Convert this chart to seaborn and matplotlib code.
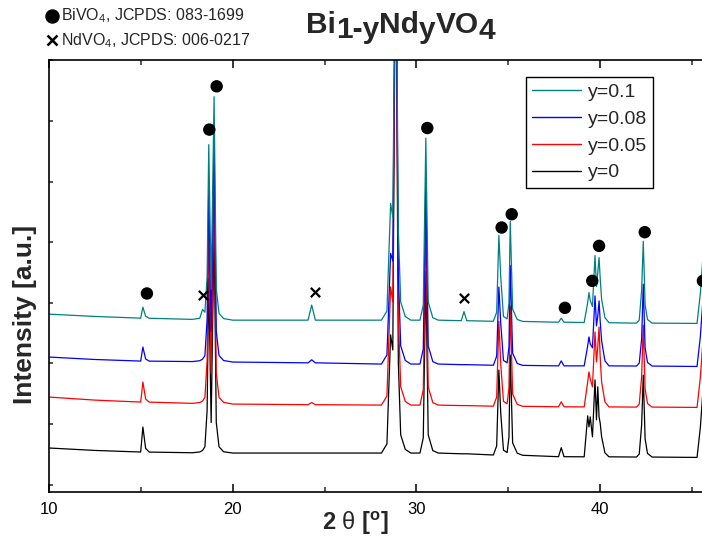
import numpy as np
import pandas as pd
import matplotlib
matplotlib.use('Agg')
import matplotlib.pyplot as plt
from matplotlib.lines import Line2D
from matplotlib.ticker import MultipleLocator
import seaborn as sns

# ---- data (2-theta in degrees, intensity in a.u. incl. stacking) ----
two_theta = [10.0, 12.5, 14.98, 15.1, 15.25, 15.45, 17.8, 18.2, 18.35, 18.48,
             18.6, 18.69, 18.82, 18.98, 19.1, 19.25, 19.5, 20.0, 24.1, 24.3,
             24.5, 28.1, 28.4, 28.6, 28.72, 28.88, 29.02, 29.15, 29.4, 29.7,
             30.2, 30.38, 30.52, 30.65, 30.9, 31.2, 32.45, 32.6, 32.75, 34.2,
             34.38, 34.5, 34.6, 34.75, 34.95, 35.05, 35.12, 35.25, 35.5, 35.8,
             37.75, 37.9, 38.05, 39.15, 39.34, 39.41, 39.48, 39.6, 39.74, 39.82,
             39.89, 39.96, 40.02, 40.1, 40.28, 40.5, 42.0, 42.15, 42.28, 42.37,
             42.47, 42.6, 42.85, 45.3, 45.48, 45.62]

int_y010 = [2813, 2775, 2747, 2928, 2777, 2745, 2727, 2745, 2890, 2845,
            3425, 5609, 3225, 6400, 3225, 2825, 2740, 2714, 2714, 2962,
            2714, 2714, 2864, 4639, 4414, 9800, 4214, 3014, 2774, 2714,
            2714, 2964, 5714, 3014, 2754, 2714, 2705, 2855, 2705, 2695,
            2845, 4112, 3435, 2775, 2735, 2995, 4343, 2895, 2725, 2693,
            2680, 2746, 2680, 2675, 3005, 3169, 3038, 2939, 3779, 3268,
            3499, 3746, 3417, 3054, 2757, 2672, 2665, 2715, 3209, 4016,
            2965, 2725, 2665, 2660, 3154, 3760]

int_y008 = [2105, 2065, 2039, 2270, 2074, 2038, 2031, 2045, 2070, 2130,
            2730, 4914, 2530, 5705, 2530, 2130, 2048, 2023, 2010, 2060,
            2010, 1990, 2140, 3815, 3690, 9800, 3490, 2290, 2050, 1990,
            1990, 2240, 4990, 2290, 2030, 1990, 1980, 1980, 1980, 1970,
            2120, 3260, 2670, 2050, 2010, 2270, 3618, 2170, 2000, 1968,
            1960, 2042, 1960, 1960, 2290, 2438, 2323, 2257, 3114, 2619,
            2784, 3031, 2702, 2372, 2042, 1960, 1957, 2007, 2402, 3308,
            2257, 2017, 1957, 1950, 2444, 3050]

int_y005 = [1445, 1395, 1363, 1693, 1413, 1362, 1342, 1355, 1380, 1440,
            2040, 4224, 1840, 5015, 1840, 1440, 1358, 1330, 1320, 1355,
            1320, 1313, 1463, 3263, 3013, 9800, 2813, 1613, 1373, 1313,
            1313, 1563, 4313, 1613, 1353, 1313, 1305, 1305, 1305, 1295,
            1445, 2695, 1995, 1375, 1335, 1595, 2943, 1495, 1325, 1293,
            1285, 1367, 1285, 1283, 1695, 1860, 1744, 1613, 2519, 2025,
            2272, 2601, 2107, 1695, 1365, 1283, 1280, 1330, 1780, 2631,
            1580, 1340, 1280, 1275, 1769, 2375]

int_y000 = [605, 565, 539, 951, 599, 538, 527, 540, 565, 625,
            1225, 3409, 1025, 4200, 1025, 625, 543, 522, 522, 522,
            522, 522, 672, 2472, 2222, 9800, 2022, 822, 582, 522,
            522, 772, 3522, 822, 562, 522, 510, 510, 510, 490,
            640, 1890, 1190, 570, 530, 790, 2138, 690, 520, 485,
            462, 610, 462, 460, 1136, 954, 1119, 790, 1729, 1070,
            1614, 1119, 1020, 790, 526, 460, 456, 506, 983, 1807,
            756, 516, 456, 450, 944, 1550]

sample_labels = ['y=0.1', 'y=0.08', 'y=0.05', 'y=0']
sample_colors = ['#008080', '#0000FF', '#FF0000', '#000000']

# phase markers (2-theta, height)
bivo4_x = [15.32, 18.72, 19.12, 30.60, 34.65, 35.20, 38.10, 39.59, 39.96, 42.45, 45.62]
bivo4_y = [3154, 5857, 6571, 5883, 4242, 4461, 2917, 3362, 3939, 4165, 3362]
ndvo4_x = [18.39, 24.48, 32.60]
ndvo4_y = [3126, 3181, 3077]

x_ticks = [10, 20, 30, 40]

# ---- style ----
sns.set_style('ticks')
plt.rcParams['font.family'] = ['Liberation Sans', 'DejaVu Sans']
plt.rcParams['mathtext.fontset'] = 'custom'
plt.rcParams['mathtext.rm'] = 'Liberation Sans'
plt.rcParams['mathtext.it'] = 'Liberation Sans:italic'
plt.rcParams['mathtext.bf'] = 'Liberation Sans:bold'

W, H = 702, 539
fig = plt.figure(figsize=(W / 100, H / 100), dpi=100)
ax = fig.add_axes([49.3 / W, (H - 492.4) / H, (W - 49.3) / W, (492.4 - 60.3) / H])

series = dict(zip(sample_labels, [int_y010, int_y008, int_y005, int_y000]))
df = pd.concat([pd.DataFrame({'two_theta': two_theta, 'intensity': v, 'sample': k})
                for k, v in series.items()], ignore_index=True)
palette = dict(zip(sample_labels, sample_colors))

sns.lineplot(data=df, x='two_theta', y='intensity', hue='sample',
             hue_order=sample_labels[::-1], palette=palette, sort=False,
             estimator=None, linewidth=0.9, legend=False, ax=ax)

sns.scatterplot(x=bivo4_x, y=bivo4_y, color='black', s=80, marker='o',
                edgecolor='none', ax=ax, zorder=5, clip_on=False)
sns.scatterplot(x=ndvo4_x, y=ndvo4_y, color='black', s=45, marker='x',
                linewidth=1.6, ax=ax, zorder=5)

ax.set_xlim(10, 45.57)
ax.set_ylim(-127, 7000)
ax.set_xticks(x_ticks)
ax.xaxis.set_minor_locator(MultipleLocator(5))
ax.yaxis.set_major_locator(MultipleLocator(1000))
ax.tick_params(axis='x', which='major', direction='in', length=6, width=1.1,
               top=True, labelsize=12, pad=7, colors='black')
ax.tick_params(axis='x', which='minor', direction='in', length=3.6, width=1.1, top=True)
ax.tick_params(axis='y', which='major', direction='in', length=3, width=1.1,
               labelleft=False, right=False)
for s in ['left', 'top', 'bottom']:
    ax.spines[s].set_linewidth(1.2)
    ax.spines[s].set_color('black')
ax.spines['right'].set_visible(False)
ax.set_xlabel('')
ax.set_ylabel('')

# axis titles
fig.text(25 / W, 1 - 314 / H, 'Intensity [a.u.]', rotation=90, ha='center',
         va='center', fontsize=19, fontweight='bold')
fig.text(355 / W, 1 - 523 / H, r'$\mathbf{2}$ θ $\mathbf{[^o]}$', ha='center',
         va='center', fontsize=17)

# title Bi(1-y)Nd(y)VO4 with lowered subscripts
title_parts = [('Bi', 0), ('1-y', -3.5), ('Nd', 0), ('y', -3.5), ('VO', 0), ('4', -4.2)]
prev = fig.text(306 / W, 1 - 33.3 / H, title_parts[0][0], fontsize=21.5,
                fontweight='bold', va='baseline')
prev_dy = 0
for txt, dy in title_parts[1:]:
    prev = ax.annotate(txt, xy=(1, 0), xycoords=prev, xytext=(0, dy - prev_dy),
                       textcoords='offset points', ha='left', va='bottom',
                       fontsize=21.5, fontweight='bold')
    prev_dy = dy

# phase key in top-left corner
ax.plot([51.7 / W], [1 - 15.7 / H], marker='o', ms=9.4, color='black',
        transform=fig.transFigure, clip_on=False, linestyle='none')
ax.plot([51.7 / W], [1 - 40 / H], marker='x', ms=7, mew=1.8, color='black',
        transform=fig.transFigure, clip_on=False, linestyle='none')
fig.text(61 / W, 1 - 20.7 / H, 'BiVO$_4$, JCPDS: 083-1699', fontsize=11.5, va='baseline')
fig.text(61 / W, 1 - 45 / H, 'NdVO$_4$, JCPDS: 006-0217', fontsize=11.5, va='baseline')

# legend
handles = [Line2D([], [], color=c, lw=1) for c in sample_colors]
leg = ax.legend(handles, sample_labels, loc='upper left',
                bbox_to_anchor=(525.7 / W, 1 - 77 / H), bbox_transform=fig.transFigure,
                borderaxespad=0, fontsize=14, handlelength=2.5, handletextpad=0.34,
                labelspacing=0.47, borderpad=0.34, frameon=True, fancybox=False,
                framealpha=1, edgecolor='black')
leg.get_frame().set_linewidth(1.0)

fig.savefig('out.png', dpi=100)
